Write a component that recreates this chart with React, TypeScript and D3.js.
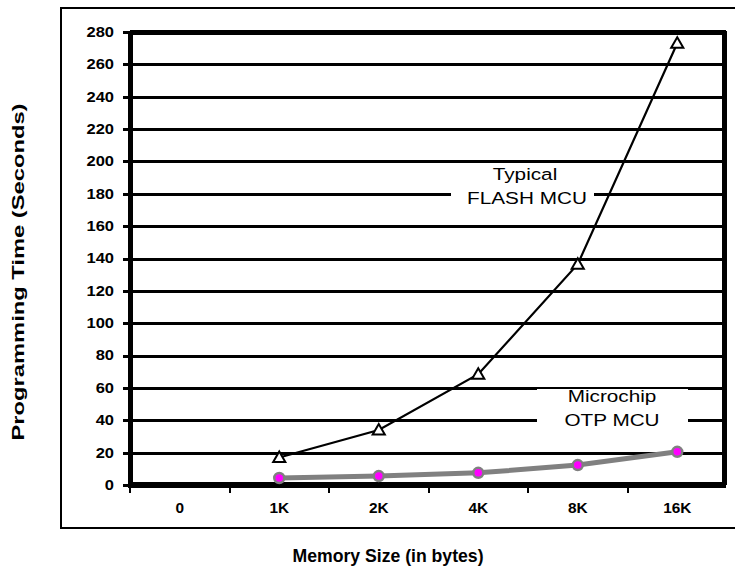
import React, { useEffect, useRef } from "react";
import * as d3 from "d3";

const categories = ["0", "1K", "2K", "4K", "8K", "16K"];
const yTicks = [0, 20, 40, 60, 80, 100, 120, 140, 160, 180, 200, 220, 240, 260, 280];
const flashCats = ["1K", "2K", "4K", "8K", "16K"];
const flashValues = [17, 34, 68.5, 136.5, 273];
const otpCats = ["1K", "2K", "4K", "8K", "16K"];
const otpValues = [4.3, 5.5, 7.5, 12.3, 20.5];

const W = 735;
const H = 569;

export default function App() {
  const ref = useRef<SVGSVGElement>(null);
  useEffect(() => {
    const svg = d3.select(ref.current);
    svg.selectAll("*").remove();
    const left = 130, right = 724, top = 32, bottom = 485;
    const x = d3.scaleBand<string>().domain(categories).range([left, left + 6 * 99.5]);
    const y = d3.scaleLinear().domain([0, 280]).range([bottom, top]);
    const yr = (d: number) => Math.round(y(d)) + 0.5;
    const font = "Arial, 'Liberation Sans', sans-serif";

    const txt = (t: string, px: number, py: number, size: number, bold: boolean, anchor: string, sx: number) =>
      svg.append("text").attr("transform", `translate(${px},${py}) scale(${sx},1)`)
        .attr("dy", "0.35em").attr("text-anchor", anchor).attr("font-family", font)
        .attr("font-weight", bold ? "bold" : "normal").attr("font-size", size).attr("fill", "#000").text(t);
    const hline = (x1: number, x2: number, yy: number, w: number) =>
      svg.append("line").attr("x1", x1).attr("x2", x2).attr("y1", yy).attr("y2", yy)
        .attr("stroke", "black").attr("stroke-width", w).attr("shape-rendering", "crispEdges");
    const vline = (xx: number, y1: number, y2: number, w: number) =>
      svg.append("line").attr("x1", xx).attr("x2", xx).attr("y1", y1).attr("y2", y2)
        .attr("stroke", "black").attr("stroke-width", w).attr("shape-rendering", "crispEdges");

    svg.append("rect").attr("width", W).attr("height", H).attr("fill", "white");
    svg.append("rect").attr("x", 61).attr("y", 8).attr("width", 690).attr("height", 520)
      .attr("fill", "none").attr("stroke", "black").attr("stroke-width", 2).attr("shape-rendering", "crispEdges");

    yTicks.filter(d => d > 0 && d < 280).forEach(d => hline(left, right, yr(d), 3));
    hline(left, right + 2, yr(280), 5);
    vline(right, yr(280) - 2, bottom, 5);

    yTicks.forEach(d => hline(left - 7, left, yr(d), 3));
    yTicks.forEach(d => txt(String(d), 114, y(d), 14, true, "end", 1.18));

    categories.forEach(c => vline(Math.round(x(c)!), bottom, bottom + 8, 2));
    categories.forEach(c => txt(c, x(c)! + x.bandwidth() / 2, 508, 14, true, "middle", 1.1));

    const fb = { x: 451, y: 164, w: 143, h: 48 };
    const ob = { x: 537, y: 388, w: 151, h: 44 };

    svg.append("rect").attr("x", ob.x).attr("y", ob.y).attr("width", ob.w).attr("height", ob.h).attr("fill", "white");
    hline(ob.x, ob.x + ob.w, ob.y + 0.5, 1);

    const cx = (c: string) => x(c)! + x.bandwidth() / 2;
    const flashPts = flashCats.map((c, i) => [cx(c), y(flashValues[i])] as [number, number]);
    svg.append("path").attr("d", d3.line()(flashPts)).attr("fill", "none")
      .attr("stroke", "black").attr("stroke-width", 2.2);
    svg.append("rect").attr("x", fb.x).attr("y", fb.y).attr("width", fb.w).attr("height", fb.h).attr("fill", "white");
    const tri = d3.symbol().type(d3.symbolTriangle).size(64);
    svg.append("g").selectAll("path").data(flashPts).join("path")
      .attr("d", tri()).attr("transform", d => `translate(${d[0]},${d[1] + 1})`)
      .attr("fill", "white").attr("stroke", "black").attr("stroke-width", 2);

    const otpPts = otpCats.map((c, i) => [cx(c), y(otpValues[i])] as [number, number]);
    svg.append("path").attr("d", d3.line()(otpPts)).attr("fill", "none")
      .attr("stroke", "#808080").attr("stroke-width", 5);

    vline(left, yr(280) - 2, bottom + 3, 5);
    hline(left - 2, right + 2, bottom, 6);

    svg.append("g").selectAll("circle").data(otpPts).join("circle")
      .attr("cx", d => d[0]).attr("cy", d => d[1]).attr("r", 5)
      .attr("fill", "#FF00FF").attr("stroke", "#808080").attr("stroke-width", 2.5);

    txt("Typical", 525, 174, 17, false, "middle", 1.22);
    txt("FLASH MCU", 527, 198, 17, false, "middle", 1.22);
    txt("Microchip", 612, 396, 17, false, "middle", 1.22);
    txt("OTP MCU", 612, 420, 17, false, "middle", 1.22);

    txt("Memory Size (in bytes)", 388, 556, 18, true, "middle", 0.98);
    svg.append("text").attr("transform", "translate(18,272) rotate(-90)").attr("dy", "0.35em")
      .attr("text-anchor", "middle").attr("font-family", font).attr("font-weight", "bold")
      .attr("font-size", 17).attr("textLength", 337).attr("lengthAdjust", "spacingAndGlyphs")
      .attr("fill", "#000").text("Programming Time (Seconds)");
  }, []);
  return (
    <svg ref={ref} width={W} height={H} style={{ position: "absolute", left: 0, top: 0, display: "block" }} />
  );
}
